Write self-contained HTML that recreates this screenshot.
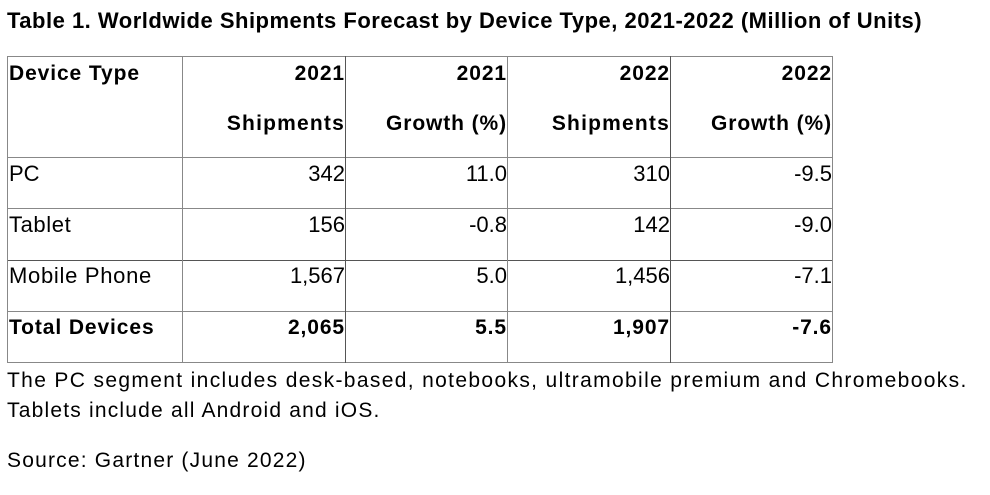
<!DOCTYPE html>
<html><head><meta charset="utf-8"><style>
body{margin:0;width:990px;height:495px;background:#fff;position:relative;font-family:"Liberation Sans",sans-serif;color:#000;overflow:hidden}
.t{position:absolute;white-space:nowrap;line-height:1}
.h{position:absolute;background:#888;height:1px}
.v{position:absolute;background:#888;width:1px}
.b{font-weight:bold;letter-spacing:0.9px}
.r{text-align:right}
</style></head><body>
<div class="t" style="left:7px;top:10px;font-size:22px;font-weight:bold;letter-spacing:0.5px">Table 1. Worldwide Shipments Forecast by Device Type, 2021-2022 (Million of Units)</div>

<div class="h" style="left:7px;top:56px;width:826px"></div>
<div class="h" style="left:7px;top:157px;width:826px"></div>
<div class="h" style="left:7px;top:208px;width:826px"></div>
<div class="h" style="left:7px;top:260px;width:826px;background:#555"></div>
<div class="h" style="left:7px;top:311px;width:826px"></div>
<div class="h" style="left:7px;top:362px;width:826px"></div>
<div class="v" style="left:7px;top:56px;height:307px"></div>
<div class="v" style="left:182px;top:56px;height:307px"></div>
<div class="v" style="left:345px;top:56px;height:307px;background:#555"></div>
<div class="v" style="left:507px;top:56px;height:307px"></div>
<div class="v" style="left:670px;top:56px;height:307px;background:#555"></div>
<div class="v" style="left:832px;top:56px;height:307px"></div>

<div class="t b" style="left:9px;top:63px;font-size:21px">Device Type</div>
<div class="t b r" style="right:645px;top:63px;font-size:21px">2021</div>
<div class="t b r" style="right:483px;top:63px;font-size:21px">2021</div>
<div class="t b r" style="right:320px;top:63px;font-size:21px">2022</div>
<div class="t b r" style="right:158px;top:63px;font-size:21px">2022</div>
<div class="t b r" style="right:645px;top:113px;font-size:21px;letter-spacing:1.2px">Shipments</div>
<div class="t b r" style="right:483px;top:113px;font-size:21px">Growth (%)</div>
<div class="t b r" style="right:320px;top:113px;font-size:21px;letter-spacing:1.2px">Shipments</div>
<div class="t b r" style="right:158px;top:113px;font-size:21px">Growth (%)</div>

<div class="t" style="left:9px;top:163px;font-size:22px">PC</div>
<div class="t r" style="right:645px;top:163px;font-size:22px">342</div>
<div class="t r" style="right:483px;top:163px;font-size:22px">11.0</div>
<div class="t r" style="right:320px;top:163px;font-size:22px">310</div>
<div class="t r" style="right:158px;top:163px;font-size:22px">-9.5</div>

<div class="t" style="left:9px;top:214px;font-size:22px;letter-spacing:0.6px">Tablet</div>
<div class="t r" style="right:645px;top:214px;font-size:22px">156</div>
<div class="t r" style="right:483px;top:214px;font-size:22px">-0.8</div>
<div class="t r" style="right:320px;top:214px;font-size:22px">142</div>
<div class="t r" style="right:158px;top:214px;font-size:22px">-9.0</div>

<div class="t" style="left:9px;top:265px;font-size:22px;letter-spacing:0.7px">Mobile Phone</div>
<div class="t r" style="right:645px;top:265px;font-size:22px">1,567</div>
<div class="t r" style="right:483px;top:265px;font-size:22px">5.0</div>
<div class="t r" style="right:320px;top:265px;font-size:22px">1,456</div>
<div class="t r" style="right:158px;top:265px;font-size:22px">-7.1</div>

<div class="t b" style="left:9px;top:317px;font-size:21px">Total Devices</div>
<div class="t b r" style="right:645px;top:317px;font-size:21px">2,065</div>
<div class="t b r" style="right:483px;top:317px;font-size:21px">5.5</div>
<div class="t b r" style="right:320px;top:317px;font-size:21px">1,907</div>
<div class="t b r" style="right:158px;top:317px;font-size:21px">-7.6</div>

<div class="t" style="left:7px;top:370px;font-size:21px;letter-spacing:1.35px">The PC segment includes desk-based, notebooks, ultramobile premium and Chromebooks.</div>
<div class="t" style="left:7px;top:400px;font-size:21px;letter-spacing:1.2px">Tablets include all Android and iOS.</div>
<div class="t" style="left:7px;top:450px;font-size:21px;letter-spacing:1.2px">Source: Gartner (June 2022)</div>
</body></html>
